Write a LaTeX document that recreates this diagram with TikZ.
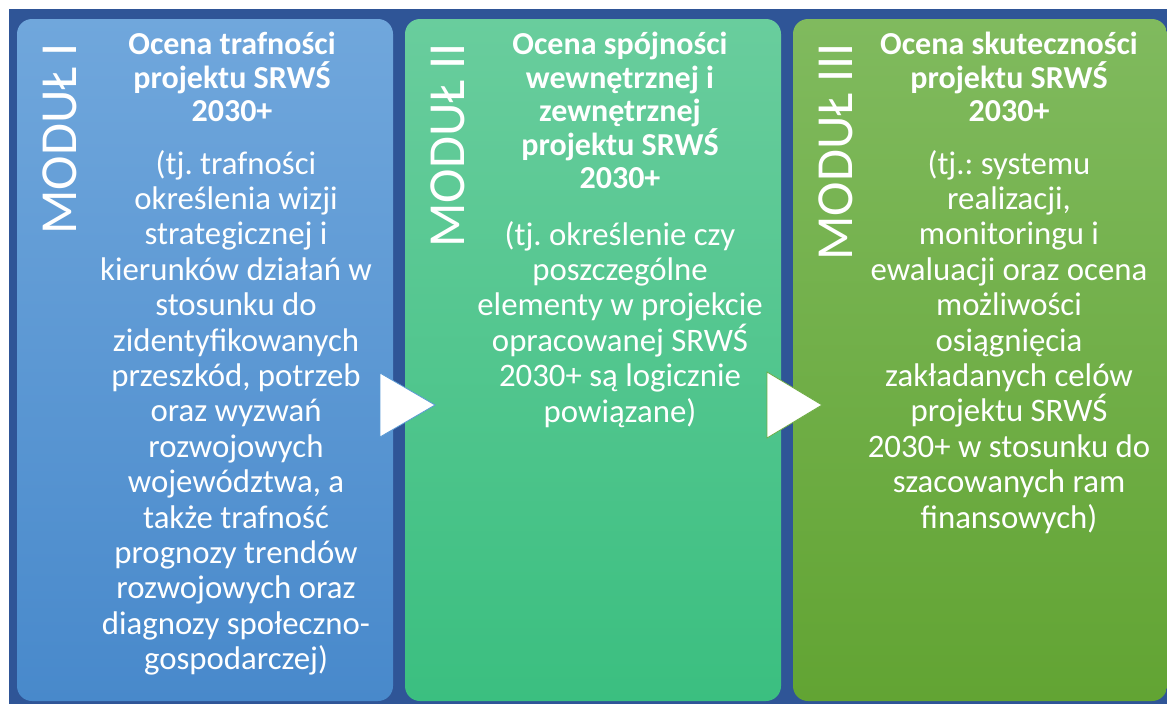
\documentclass[tikz,border=0pt]{standalone}
\usepackage{fontspec}
\setmainfont{Carlito}
\frenchspacing
\definecolor{bgblue}{HTML}{2F5597}
\definecolor{aTop}{HTML}{70A7DC}
\definecolor{aBot}{HTML}{4889CB}
\definecolor{bTop}{HTML}{69CD9D}
\definecolor{bBot}{HTML}{3BBF80}
\definecolor{cTop}{HTML}{80BA5E}
\definecolor{cBot}{HTML}{62A433}
\definecolor{aEdge}{HTML}{5B9BD5}
\definecolor{cEdge}{HTML}{70AD47}
\tikzset{
  panel/.style={rounded corners=15pt, draw=none},
  modul/.style={rotate=90, anchor=base east, inner sep=0pt, text=white,
    font=\fontsize{52}{60}\selectfont},
  ttl/.style={anchor=north, inner sep=0pt, text=white, align=center,
    font=\fontsize{32}{33.5}\selectfont\bfseries},
  bdy/.style={anchor=north, inner sep=0pt, text=white, align=center,
    font=\fontsize{32.8}{35.4}\selectfont},
  arrowtri/.style={fill=white, line width=0.8pt, line join=miter}
}
\begin{document}
\begin{tikzpicture}[x=1pt,y=-1pt]
\useasboundingbox (0,0) rectangle (1167,704);
\fill[white] (0,0) rectangle (1167,704);
\fill[bgblue] (9,9) rectangle (1167,704);
% panels
\shade[panel, top color=aTop, bottom color=aBot] (17,19) rectangle (393,701);
\shade[panel, top color=bTop, bottom color=bBot] (405,19) rectangle (781,701);
\shade[panel, top color=cTop, bottom color=cBot] (793,19) rectangle (1167,701);
% module labels
\node[modul] (m1) at (76,43) {MODUŁ I};
\node[modul] (m2) at (464,43) {MODUŁ II};
\node[modul] (m3) at (852,43) {MODUŁ III};
% texts
\node[ttl] (t1) at (232,32) {Ocena trafności\\projektu SRWŚ\\2030+};
\node[bdy] (b1) at (236,150) {(tj. trafności\\określenia wizji\\strategicznej i\\kierunków działań w\\stosunku do\\zidentyfikowanych\\przeszkód, potrzeb\\oraz wyzwań\\rozwojowych\\województwa, a\\także trafność\\prognozy trendów\\rozwojowych oraz\\diagnozy społeczno-\\gospodarczej)};
\node[ttl] (t2) at (620,32) {Ocena spójności\\wewnętrznej i\\zewnętrznej\\projektu SRWŚ\\2030+};
\node[bdy] (b2) at (620,221) {(tj. określenie czy\\poszczególne\\elementy w projekcie\\opracowanej SRWŚ\\2030+ są logicznie\\powiązane)};
\node[ttl] (t3) at (1009,32) {Ocena skuteczności\\projektu SRWŚ\\2030+};
\node[bdy] (b3) at (1009,150) {(tj.: systemu\\realizacji,\\monitoringu i\\ewaluacji oraz ocena\\możliwości\\osiągnięcia\\zakładanych celów\\projektu SRWŚ\\2030+ w stosunku do\\szacowanych ram\\finansowych)};
% arrows
\filldraw[arrowtri, draw=aEdge] (380,373) -- (380,437) -- (435,405) -- cycle;
\filldraw[arrowtri, draw=cEdge] (767,372) -- (767,438) -- (822,405) -- cycle;
\end{tikzpicture}
\end{document}
